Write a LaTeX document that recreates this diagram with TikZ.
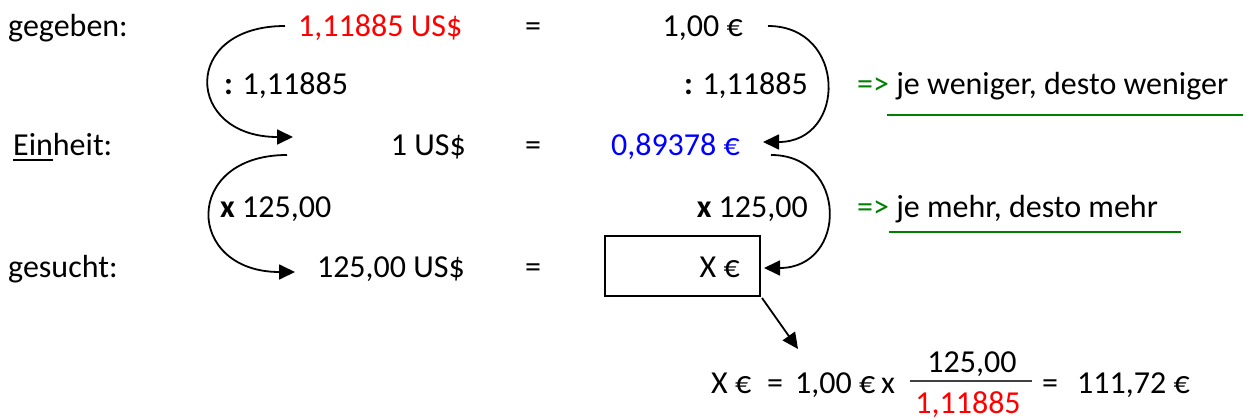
\documentclass[tikz,border=0pt]{standalone}
\usepackage{fontspec}
\setmainfont{Carlito}
\usetikzlibrary{arrows.meta}
\definecolor{myred}{RGB}{255,0,0}
\definecolor{myblue}{RGB}{0,0,255}
\definecolor{mygreen}{RGB}{0,128,0}
\begin{document}
\begin{tikzpicture}[x=1pt,y=-1pt,
  every node/.style={font=\fontsize{32}{38}\selectfont, inner sep=0pt},
  txl/.style={anchor=base west},
  txr/.style={anchor=base east},
  txc/.style={anchor=base},
  arr/.style={line width=1.8pt, -{Triangle[length=16pt,width=15pt]}},
  gline/.style={draw=mygreen, line width=1.8pt}]
\useasboundingbox (0,0) rectangle (1245,420);
% row 1
\node[txl] (g1) at (8,37) {gegeben:};
\node[txl, text=myred] (usd1) at (298,37) {1,11885 US\$};
\node[txc] (eq1) at (533,37) {=};
\node[txr] (eur1) at (743,37) {1,00 €};
% row 2
\node[txl] (lab1) at (224,95) {\textbf{:} 1,11885};
\node[txr] (lab2) at (808,95) {\textbf{:} 1,11885};
\node[txl] (gr1) at (857,95) {\textcolor{mygreen}{=>} je weniger, desto weniger};
\coordinate (u1a) at (887,115);
\coordinate (u1b) at (1243,115);
\draw[gline] (u1a) -- (u1b);
% row 3
\node[txl] (ein) at (13,155) {Einheit:};
\coordinate (eua) at (13,160);
\coordinate (eub) at (53,160);
\draw[line width=1.6pt] (eua) -- (eub);
\node[txr] (usd2) at (466,155) {1 US\$};
\node[txc] (eq2) at (533,155) {=};
\node[txr, text=myblue] (eur2) at (740,155) {0,89378 €};
% row 4
\node[txl] (lab3) at (220,217) {\textbf{x} 125,00};
\node[txr] (lab4) at (808,217) {\textbf{x} 125,00};
\node[txl] (gr2) at (857,217) {\textcolor{mygreen}{=>} je mehr, desto mehr};
\coordinate (u2a) at (889,232);
\coordinate (u2b) at (1181,232);
\draw[gline] (u2a) -- (u2b);
% row 5
\node[txl] (ges) at (8,277) {gesucht:};
\node[txr] (usd3) at (465,277) {125,00 US\$};
\node[txc] (eq3) at (533,277) {=};
\node[draw, line width=1.5pt, minimum width=155pt, minimum height=60pt] (box) at (682.5,266) {};
\node[txr] (xe) at (740,277) {X €};
% curved arrows
\coordinate (a1s) at (285,26);
\coordinate (a1e) at (293,137);
\draw[arr] (a1s) .. controls (180,26) and (185,137) .. (a1e);
\coordinate (a2s) at (287,155);
\coordinate (a2e) at (295,272);
\draw[arr] (a2s) .. controls (182,155) and (185,272) .. (a2e);
\coordinate (a3s) at (768,26);
\coordinate (a3e) at (763,142);
\draw[arr] (a3s) .. controls (847,26) and (847,142) .. (a3e);
\coordinate (a4s) at (771,155);
\coordinate (a4e) at (764,268);
\draw[arr] (a4s) .. controls (848,155) and (848,268) .. (a4e);
% result
\node[txl] (rx) at (711,393) {X €};
\node[txc] (req1) at (775,393) {=};
\node[txl] (r1) at (795,393) {1,00 €};
\node[txl] (rmul) at (881,393) {x};
\node[txc] (num) at (972,372) {125,00};
\node[txc, text=myred] (den) at (968,413) {1,11885};
\coordinate (fa) at (910,381);
\coordinate (fb) at (1032,381);
\draw[line width=1.5pt, draw=black!75] (fa) -- (fb);
\node[txc] (req2) at (1050,393) {=};
\node[txl] (res) at (1077,393) {111,72 €};
\coordinate (da) at (762,298);
\coordinate (db) at (798,349);
\draw[arr] (da) -- (db);
\end{tikzpicture}
\end{document}
